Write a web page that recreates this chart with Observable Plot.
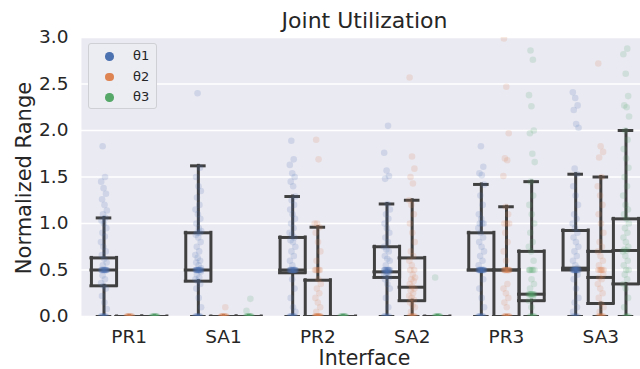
<!DOCTYPE html>
<html><head><meta charset="utf-8">
<script src="https://cdn.jsdelivr.net/npm/d3@7"></script>
<script src="https://cdn.jsdelivr.net/npm/@observablehq/plot@0.6"></script>
<style>
body{margin:0;background:#fff;font-family:"DejaVu Sans",sans-serif;color:#262626}
#wrap{position:relative;width:640px;height:369px;overflow:hidden}
.ov{position:absolute;white-space:nowrap;line-height:1;color:#262626}
#legend{position:absolute;left:88px;top:43px;width:67px;height:64px;border:1px solid #cfcfd6;border-radius:3px;background:#ECECF3;box-sizing:content-box}
.lg{position:absolute;left:0;height:14px;font-size:13px;line-height:14px}
.lg i{position:absolute;left:16px;top:3px;width:8.5px;height:8.5px;border-radius:50%}
.lg span{position:absolute;left:44px;top:0}
</style></head><body>
<div id="wrap"></div>
<script>
const interfaces = ["PR1", "SA1", "PR2", "SA2", "PR3", "SA3"];
const thetas = ["θ1", "θ2", "θ3"];
const palette = ["#4C72B0", "#DD8452", "#55A868"];
const yTicks = [0, 0.5, 1, 1.5, 2, 2.5, 3];

// strip points
const pr1T1 = [0,0,0,0,0,0,0,0,0.08,0.15,0.22,0.3,0.33,0.36,0.4,0.44,0.5,0.5,0.5,0.5,0.5,0.5,0.5,0.5,0.5,0.5,0.5,0.5,0.55,0.58,0.62,0.66,0.7,0.75,0.8,0.86,0.9,0.95,1.0,1.03,1.06,1.1,1.14,1.2,1.26,1.32,1.38,1.45,1.5,1.83];
const pr1T2 = [0,0,0,0,0,0,0,0,0,0,0,0];
const pr1T3 = [0,0,0,0,0,0,0,0,0,0,0,0];
const sa1T1 = [0,0,0,0,0,0,0,0,0.1,0.2,0.3,0.35,0.38,0.4,0.42,0.45,0.48,0.5,0.5,0.5,0.5,0.5,0.5,0.5,0.5,0.5,0.5,0.5,0.5,0.52,0.55,0.58,0.6,0.63,0.66,0.7,0.75,0.8,0.85,0.88,0.9,0.9,0.92,0.95,1.0,1.05,1.1,1.15,1.2,1.28,1.35,1.4,1.5,1.6,2.4];
const sa1T2 = [0,0,0,0,0,0,0,0,0,0,0,0,0.1];
const sa1T3 = [0,0,0,0,0,0,0,0,0,0,0,0,0.06,0.19];
const pr2T1 = [0,0,0,0,0,0,0,0,0.05,0.1,0.2,0.3,0.4,0.5,0.5,0.5,0.5,0.5,0.5,0.5,0.5,0.5,0.5,0.5,0.5,0.55,0.6,0.65,0.7,0.75,0.8,0.82,0.85,0.88,0.9,0.95,1.0,1.05,1.1,1.15,1.2,1.25,1.29,1.4,1.45,1.5,1.54,1.63,1.69,1.89];
const pr2T2 = [0,0,0,0,0,0,0,0,0,0,0,0,0,0,0,0,0.05,0.1,0.15,0.2,0.25,0.3,0.35,0.4,0.5,0.5,0.5,0.5,0.5,0.6,0.7,0.8,0.9,0.96,1.0,1.0,1.69,1.9];
const pr2T3 = [0,0,0,0,0,0,0,0,0,0,0,0];
const sa2T1 = [0,0,0,0,0,0,0.1,0.2,0.3,0.35,0.4,0.42,0.44,0.46,0.48,0.48,0.48,0.48,0.5,0.5,0.5,0.5,0.5,0.5,0.5,0.5,0.5,0.5,0.55,0.6,0.62,0.65,0.7,0.72,0.75,0.8,0.85,0.9,0.95,1.0,1.05,1.1,1.15,1.21,1.48,1.51,1.57,1.76,2.05];
const sa2T2 = [0,0,0,0,0,0,0,0,0.05,0.1,0.12,0.15,0.18,0.2,0.22,0.25,0.28,0.3,0.32,0.35,0.38,0.4,0.42,0.45,0.5,0.5,0.55,0.6,0.65,0.7,0.8,0.9,1.0,1.1,1.2,1.25,1.43,1.5,1.59,1.72,2.57];
const sa2T3 = [0,0,0,0,0,0,0,0,0,0,0,0,0.42];
const pr3T1 = [0,0,0,0,0,0,0,0,0.1,0.2,0.3,0.4,0.5,0.5,0.5,0.5,0.5,0.5,0.5,0.5,0.5,0.5,0.5,0.5,0.5,0.5,0.55,0.6,0.65,0.7,0.75,0.8,0.85,0.9,0.95,1.0,1.0,1.0,1.05,1.1,1.2,1.3,1.42,1.52,1.54,1.61,1.83];
const pr3T2 = [0,0,0,0,0,0,0,0,0,0,0.1,0.15,0.2,0.25,0.3,0.35,0.5,0.5,0.5,0.5,0.5,0.5,0.5,0.5,0.5,0.5,0.6,0.7,0.8,0.9,1.0,1.0,1.0,1.1,1.18,1.51,1.68,1.7,1.97,2.47,2.99];
const pr3T3 = [0,0,0,0,0,0,0.1,0.17,0.2,0.24,0.24,0.24,0.24,0.24,0.24,0.24,0.24,0.3,0.35,0.4,0.5,0.5,0.5,0.5,0.5,0.5,0.6,0.7,0.75,0.8,0.9,1.0,1.1,1.2,1.3,1.45,1.66,1.75,1.97,2.0,2.26,2.38,2.76,2.86];
const sa3T1 = [0,0,0,0,0,0.05,0.1,0.15,0.2,0.3,0.4,0.45,0.5,0.5,0.5,0.5,0.5,0.5,0.5,0.5,0.5,0.5,0.5,0.5,0.52,0.55,0.6,0.65,0.7,0.75,0.8,0.85,0.9,0.95,1.0,1.05,1.1,1.2,1.3,1.4,1.53,1.59,2.03,2.07,2.22,2.27,2.35,2.41];
const sa3T2 = [0,0,0,0,0,0,0,0,0.05,0.1,0.14,0.2,0.25,0.3,0.35,0.4,0.42,0.45,0.5,0.5,0.5,0.5,0.5,0.5,0.55,0.6,0.65,0.7,0.75,0.8,0.9,1.0,1.1,1.2,1.3,1.4,1.5,1.71,1.77,1.83,2.72];
const sa3T3 = [0,0,0,0,0.1,0.2,0.3,0.35,0.4,0.45,0.5,0.5,0.55,0.6,0.65,0.7,0.71,0.72,0.75,0.8,0.85,0.9,0.95,1.0,1.05,1.1,1.15,1.2,1.3,1.4,1.5,1.6,1.7,1.8,1.9,2.0,2.15,2.25,2.27,2.37,2.61,2.82,2.88];

// box statistics per theta, across interfaces
const q1T1  = [0.33, 0.38, 0.47, 0.42, 0.5, 0.5];
const medT1 = [0.5, 0.5, 0.5, 0.48, 0.5, 0.52];
const q3T1  = [0.63, 0.9, 0.85, 0.75, 0.9, 0.925];
const loT1  = [0, 0, 0, 0, 0, 0];
const hiT1  = [1.06, 1.62, 1.29, 1.21, 1.42, 1.53];
const q1T2  = [0, 0, 0, 0.17, 0, 0.14];
const medT2 = [0, 0, 0, 0.315, 0.5, 0.42];
const q3T2  = [0, 0, 0.39, 0.63, 0.5, 0.7];
const loT2  = [0, 0, 0, 0, 0, 0];
const hiT2  = [0, 0, 0.96, 1.25, 1.18, 1.5];
const q1T3  = [0, 0, 0, 0, 0.17, 0.35];
const medT3 = [0, 0, 0, 0, 0.24, 0.71];
const q3T3  = [0, 0, 0, 0, 0.7, 1.05];
const loT3  = [0, 0, 0, 0, 0, 0];
const hiT3  = [0, 0, 0, 0, 1.45, 2.0];

const pointSets = [[pr1T1, pr1T2, pr1T3], [sa1T1, sa1T2, sa1T3], [pr2T1, pr2T2, pr2T3],
                   [sa2T1, sa2T2, sa2T3], [pr3T1, pr3T2, pr3T3], [sa3T1, sa3T2, sa3T3]];
const statSets = [
  {q1: q1T1, med: medT1, q3: q3T1, lo: loT1, hi: hiT1},
  {q1: q1T2, med: medT2, q3: q3T2, lo: loT2, hi: hiT2},
  {q1: q1T3, med: medT3, q3: q3T3, lo: loT3, hi: hiT3}
];

const slot = 0.8 / 3, hw = slot / 2, cw = slot / 4, jl = 0.1 / 3;
const points = [];
pointSets.forEach((row, c) => row.forEach((vals, k) => vals.forEach((v, i) => points.push({c, k, theta: thetas[k], v, i}))));
const boxes = [];
statSets.forEach((s, k) => interfaces.forEach((name, c) => boxes.push({
  c, k, ctr: c + (k - 1) * slot, q1: s.q1[c], med: s.med[c], q3: s.q3[c], lo: s.lo[c], hi: s.hi[c]
})));
const jit = d => (((d.i * 0.6180339887 + d.k * 0.37) % 1) - 0.5) * 2 * jl;

const gray = "#404040";
const line = {stroke: gray, strokeWidth: 3, strokeLinecap: "square", clip: true};

const chart = Plot.plot({
  width: 640, height: 369,
  marginLeft: 81, marginRight: 0, marginTop: 37, marginBottom: 53,
  x: {type: "linear", domain: [-0.5, 5.5], range: [81.5, 647.5], axis: null},
  y: {domain: [0, 3], range: [316, 37], axis: null},
  color: {domain: thetas, range: palette},
  style: {fontFamily: "DejaVu Sans", color: "#262626", background: "transparent", overflow: "visible"},
  marks: [
    Plot.frame({fill: "#EAEAF2", stroke: null}),
    Plot.gridY({ticks: yTicks, stroke: "#ffffff", strokeOpacity: 1, strokeWidth: 1.6}),
    Plot.axisY({ticks: yTicks, tickFormat: d => d.toFixed(1), tickSize: 0, tickPadding: 13, fontSize: 18.5, label: null}),
    Plot.axisX({ticks: [0, 1, 2, 3, 4, 5], tickFormat: i => interfaces[i], tickSize: 0, tickPadding: 13, fontSize: 18.5, label: null}),
    // whiskers
    Plot.ruleX(boxes, {x: "ctr", y1: "q3", y2: "hi", ...line}),
    Plot.ruleX(boxes, {x: "ctr", y1: "lo", y2: "q1", ...line}),
    Plot.ruleY(boxes, {y: "hi", x1: d => d.ctr - cw, x2: d => d.ctr + cw, ...line}),
    Plot.ruleY(boxes, {y: "lo", x1: d => d.ctr - cw, x2: d => d.ctr + cw, ...line}),
    // box edges
    Plot.ruleY(boxes, {y: "q1", x1: d => d.ctr - hw, x2: d => d.ctr + hw, ...line}),
    Plot.ruleY(boxes, {y: "q3", x1: d => d.ctr - hw, x2: d => d.ctr + hw, ...line}),
    Plot.ruleX(boxes, {x: d => d.ctr - hw, y1: "q1", y2: "q3", ...line}),
    Plot.ruleX(boxes, {x: d => d.ctr + hw, y1: "q1", y2: "q3", ...line}),
    Plot.ruleY(boxes, {y: "med", x1: d => d.ctr - hw, x2: d => d.ctr + hw, ...line}),
    // strip points
    Plot.dot(points, {x: d => d.c + (d.k - 1) * slot + jit(d), y: "v", fill: "theta", r: 3.3, fillOpacity: 0.17, stroke: null, clip: true})
  ]
});

const wrap = document.getElementById("wrap");
wrap.appendChild(chart);

function ov(text, css) {
  const d = document.createElement("div");
  d.className = "ov";
  d.textContent = text;
  Object.assign(d.style, css);
  wrap.appendChild(d);
  return d;
}
ov("Joint Utilization", {left: "364.5px", top: "9.5px", fontSize: "22px", transform: "translateX(-50%)"});
ov("Interface", {left: "364.5px", top: "347.5px", fontSize: "20.5px", lineHeight: "20.5px", transform: "translateX(-50%)"});
ov("Normalized Range", {left: "24px", top: "178px", fontSize: "21px", transform: "translate(-50%,-50%) rotate(-90deg)"});

const lg = document.createElement("div");
lg.id = "legend";
thetas.forEach((t, k) => {
  const row = document.createElement("div");
  row.className = "lg";
  row.style.top = (5 + k * 20.5) + "px";
  row.style.width = "67px";
  const dot = document.createElement("i");
  dot.style.background = palette[k];
  const s = document.createElement("span");
  s.textContent = t;
  row.appendChild(dot); row.appendChild(s);
  lg.appendChild(row);
});
wrap.appendChild(lg);
</script>
</body></html>
